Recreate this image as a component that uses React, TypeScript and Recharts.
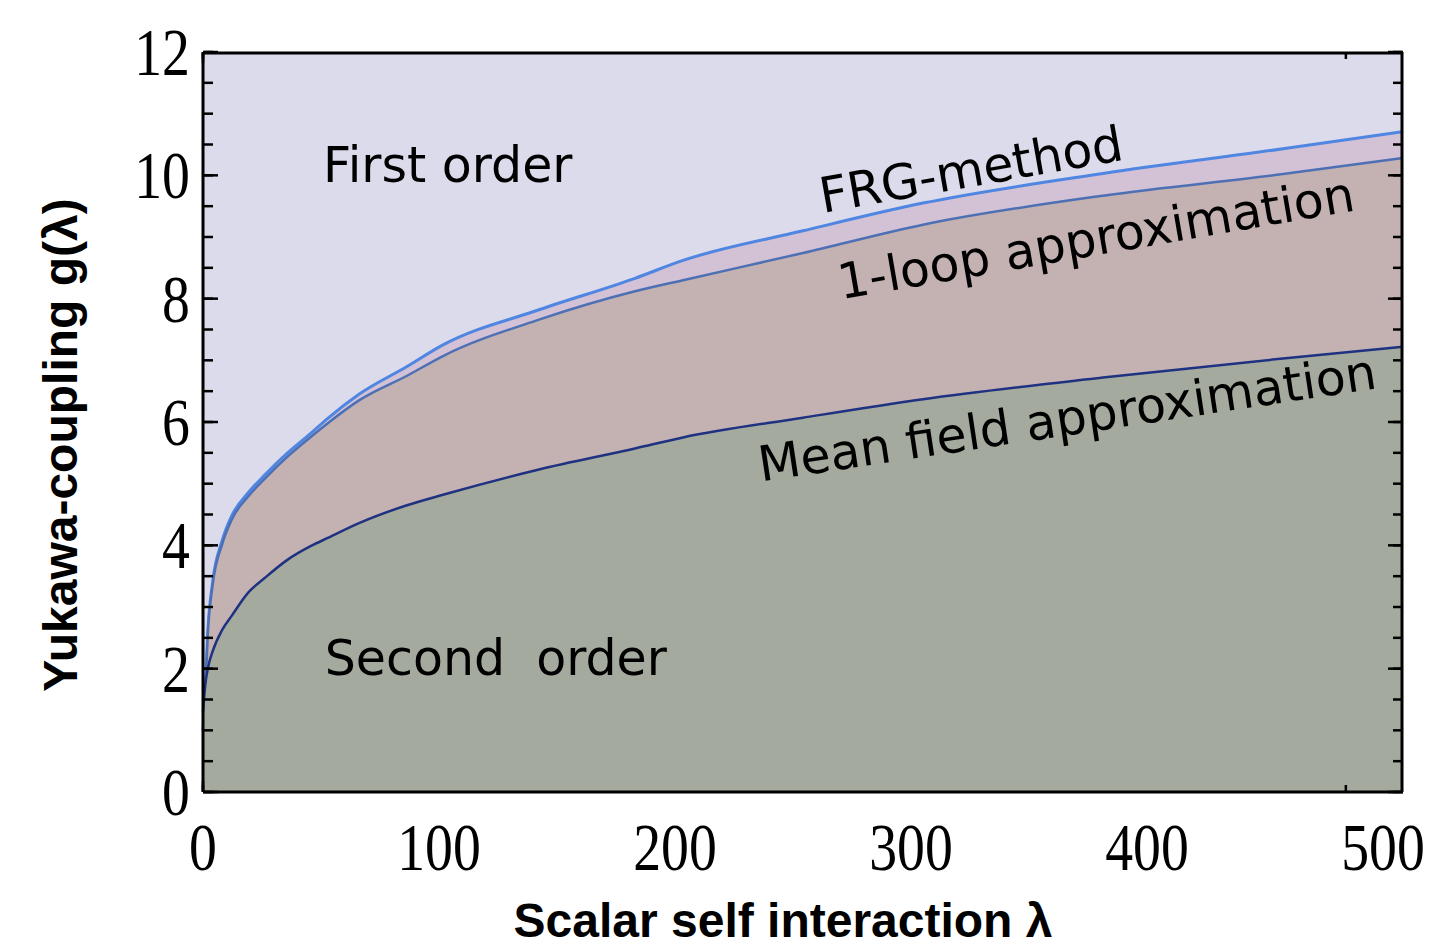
import React from "react";
import { ComposedChart, Area, XAxis, YAxis, CartesianGrid, ReferenceDot } from "recharts";

const lambdas = [0, 1, 2, 4, 8, 12, 19, 26, 35, 45, 52, 65, 85, 100, 140, 180, 200, 250, 300, 375, 450, 500];
const frgMethod = [1.0, 1.7, 2.6, 3.4, 4.08, 4.48, 4.86, 5.15, 5.49, 5.82, 6.06, 6.45, 6.9, 7.25, 7.82, 8.33, 8.62, 9.1, 9.55, 10.03, 10.43, 10.71];
const oneLoop = [1.0, 1.65, 2.55, 3.35, 4.02, 4.42, 4.8, 5.09, 5.43, 5.76, 5.98, 6.35, 6.75, 7.07, 7.66, 8.12, 8.3, 8.74, 9.2, 9.67, 10.02, 10.28];
const meanField = [1.3, 1.75, 2.0, 2.28, 2.63, 2.86, 3.24, 3.48, 3.76, 3.99, 4.12, 4.36, 4.65, 4.82, 5.23, 5.57, 5.75, 6.07, 6.37, 6.72, 7.03, 7.22];

const xMajorTicks = [0, 100, 200, 300, 400, 500];
const xMinorTicks = [0, 20, 40, 60, 80, 100, 120, 140, 160, 180, 200, 220, 240, 260, 280, 300, 320, 340, 360, 380, 400, 420, 440, 460, 480, 500];
const yMajorTicks = [0, 2, 4, 6, 8, 10, 12];
const yMinorTicks = [0, 0.5, 1, 1.5, 2, 2.5, 3, 3.5, 4, 4.5, 5, 5.5, 6, 6.5, 7, 7.5, 8, 8.5, 9, 9.5, 10, 10.5, 11, 11.5, 12];

const regionLabels = [
  { text: "First order", x: 102, y: 10.18, angle: 0 },
  { text: "Second\u00a0 order", x: 122, y: 2.18, angle: 0 },
  { text: "FRG-method", x: 320, y: 10.1, angle: -10 },
  { text: "1-loop approximation", x: 372, y: 8.99, angle: -9.8 },
  { text: "Mean field approximation", x: 360, y: 6.07, angle: -8.6 },
];

const data = lambdas.map((l, i) => ({
  lambda: l,
  frg: frgMethod[i],
  loop: oneLoop[i],
  mean: meanField[i],
}));

const serif = "'Liberation Serif', 'Times New Roman', serif";
const sans = "'Liberation Sans', Arial, sans-serif";
const dejavu = "'DejaVu Sans', Verdana, sans-serif";

// Times-like numbers, a bit narrow like in the original; the labels in the
// source image creep slightly left of their ticks towards the right end
function XTick(props: any) {
  const { x, y, payload } = props;
  const dx = -payload.value * 0.04;
  return (
    <text
      transform={`translate(${x + dx},${y + 78}) scale(0.82,1)`}
      textAnchor="middle"
      fontFamily={serif}
      fontSize={68}
      fill="#000"
    >
      {payload.value}
    </text>
  );
}

function YTick(props: any) {
  const { x, y, payload } = props;
  return (
    <text
      transform={`translate(${x},${y + 23}) scale(0.82,1)`}
      textAnchor="end"
      fontFamily={serif}
      fontSize={68}
      fill="#000"
    >
      {payload.value}
    </text>
  );
}

// tick marks only, no text
const NoLabel = () => <g />;

const frame = { stroke: "#000", strokeWidth: 3 };
const tickStroke = { stroke: "#000", strokeWidth: 2.5 };

export default function App() {
  return (
    <div style={{ position: "absolute", left: 0, top: 0, background: "#fff" }}>
      <ComposedChart
        width={1432}
        height={952}
        data={data}
        margin={{ top: 52, right: 29, bottom: 100, left: 123 }}
      >
        <CartesianGrid horizontal={false} vertical={false} fill="#dcdbeb" fillOpacity={1} />

        <Area
          dataKey="frg"
          type="monotone"
          baseValue={0}
          fill="#d3c1d6"
          fillOpacity={1}
          stroke="#4f86e2"
          strokeWidth={3}
          dot={false}
          activeDot={false}
          isAnimationActive={false}
        />
        <Area
          dataKey="loop"
          type="monotone"
          baseValue={0}
          fill="#c4b2b3"
          fillOpacity={1}
          stroke="#4d70b4"
          strokeWidth={2.5}
          dot={false}
          activeDot={false}
          isAnimationActive={false}
        />
        <Area
          dataKey="mean"
          type="monotone"
          baseValue={0}
          fill="#a5aa9e"
          fillOpacity={1}
          stroke="#1f3282"
          strokeWidth={2.5}
          dot={false}
          activeDot={false}
          isAnimationActive={false}
        />

        <XAxis
          dataKey="lambda"
          type="number"
          domain={[0, 500]}
          ticks={xMajorTicks}
          height={60}
          tickSize={0}
          tickMargin={0}
          tickLine={false}
          axisLine={frame}
          tick={<XTick />}
          label={{
            content: (p: any) => (
              <text
                x={p.viewBox.x + p.viewBox.width / 2 - 20}
                y={p.viewBox.y + 145}
                textAnchor="middle"
                fontFamily={sans}
                fontWeight="bold"
                fontSize={48}
                fill="#000"
              >
                Scalar self interaction λ
              </text>
            ),
          }}
        />
        <YAxis
          type="number"
          domain={[0, 12]}
          ticks={yMajorTicks}
          width={80}
          tickSize={0}
          tickMargin={13}
          tickLine={false}
          axisLine={frame}
          tick={<YTick />}
          label={{
            content: (p: any) => {
              const cx = p.viewBox.x - 63;
              const cy = p.viewBox.y + p.viewBox.height / 2 + 23;
              return (
                <text
                  transform={`translate(${cx},${cy}) rotate(-90)`}
                  textAnchor="middle"
                  dominantBaseline="central"
                  fontFamily={sans}
                  fontWeight="bold"
                  fontSize={48}
                  fill="#000"
                >
                  Yukawa-coupling g(λ)
                </text>
              );
            },
          }}
        />

        {/* inner tick marks and the closing frame on all four sides */}
        <XAxis xAxisId="bMin" orientation="bottom" mirror type="number" domain={[0, 500]} allowDataOverflow ticks={xMinorTicks} height={1} tickSize={6} tick={NoLabel} axisLine={false} tickLine={tickStroke} />
        <XAxis xAxisId="bMaj" orientation="bottom" mirror type="number" domain={[0, 500]} allowDataOverflow ticks={xMajorTicks} height={1} tickSize={11} tick={NoLabel} axisLine={false} tickLine={tickStroke} />
        <XAxis xAxisId="tMin" orientation="top" mirror type="number" domain={[0, 500]} allowDataOverflow ticks={xMinorTicks} height={1} tickSize={6} tick={NoLabel} axisLine={frame} tickLine={tickStroke} />
        <XAxis xAxisId="tMaj" orientation="top" mirror type="number" domain={[0, 500]} allowDataOverflow ticks={xMajorTicks} height={1} tickSize={11} tick={NoLabel} axisLine={false} tickLine={tickStroke} />
        <YAxis yAxisId="lMin" orientation="left" mirror type="number" domain={[0, 12]} allowDataOverflow ticks={yMinorTicks} width={1} tickSize={9} tick={NoLabel} axisLine={false} tickLine={tickStroke} />
        <YAxis yAxisId="lMaj" orientation="left" mirror type="number" domain={[0, 12]} allowDataOverflow ticks={yMajorTicks} width={1} tickSize={15} tick={NoLabel} axisLine={false} tickLine={tickStroke} />
        <YAxis yAxisId="rMin" orientation="right" mirror type="number" domain={[0, 12]} allowDataOverflow ticks={yMinorTicks} width={1} tickSize={9} tick={NoLabel} axisLine={frame} tickLine={tickStroke} />
        <YAxis yAxisId="rMaj" orientation="right" mirror type="number" domain={[0, 12]} allowDataOverflow ticks={yMajorTicks} width={1} tickSize={15} tick={NoLabel} axisLine={false} tickLine={tickStroke} />

        {regionLabels.map((r) => (
          <ReferenceDot
            key={r.text}
            x={r.x}
            y={r.y}
            r={1}
            fill="none"
            stroke="none"
            label={{
              value: r.text,
              position: "center",
              angle: r.angle,
              fontFamily: dejavu,
              fontSize: 49,
              fill: "#000",
            }}
          />
        ))}
      </ComposedChart>
    </div>
  );
}
